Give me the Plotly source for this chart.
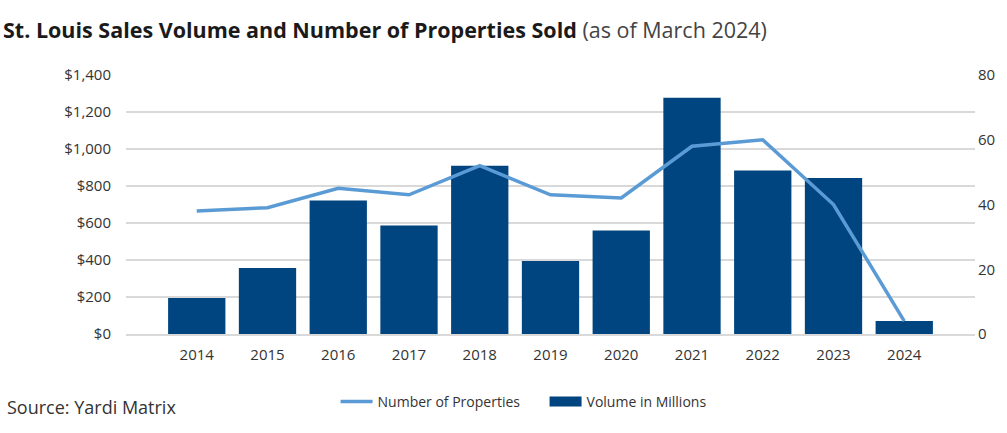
import plotly.graph_objects as go

years = ["2014", "2015", "2016", "2017", "2018", "2019", "2020", "2021", "2022", "2023", "2024"]
volume_millions = [195, 357, 722, 587, 910, 395, 560, 1277, 884, 843, 70]
num_properties = [38, 39, 45, 43, 52, 43, 42, 58, 60, 40, 4]

left_ticks = [0, 200, 400, 600, 800, 1000, 1200, 1400]
left_labels = ["$0", "$200", "$400", "$600", "$800", "$1,000", "$1,200", "$1,400"]
right_ticks = [0, 20, 40, 60, 80]

FONT = "Open Sans"
TXT = "#333333"
BAR = "#00457f"
LINE = "#5b9bd5"

fig = go.Figure()
fig.add_trace(go.Bar(
    x=years, y=volume_millions, name="Volume in Millions",
    marker=dict(color=BAR, line=dict(width=0)), yaxis="y", showlegend=False,
))
fig.add_trace(go.Scatter(
    x=years, y=num_properties, name="Number of Properties", mode="lines",
    line=dict(color=LINE, width=3.5), yaxis="y2", legendrank=1,
))
# legend-only entry for the bars (wide rectangle swatch)
fig.add_trace(go.Scatter(
    x=[None], y=[None], name="Volume in Millions", mode="lines",
    line=dict(color=BAR, width=14), yaxis="y", legendrank=2, hoverinfo="skip",
))

fig.update_layout(
    width=1007, height=433,
    margin=dict(l=126, r=30, t=75, b=99),
    paper_bgcolor="white", plot_bgcolor="white",
    font=dict(family=FONT, size=14, color=TXT),
    bargap=0.19,
    showlegend=True,
    legend=dict(orientation="h", x=0.493, xanchor="center", y=-0.262, yanchor="middle",
                font=dict(size=14, color=TXT), itemwidth=32,
                entrywidth=162, entrywidthmode="pixels"),
    xaxis=dict(type="category", range=[-1, 11], showgrid=False, zeroline=False,
               showline=True, linecolor="#d9d9d9", linewidth=2,
               ticks="", tickfont=dict(size=15, color=TXT), ticklabelstandoff=6),
    yaxis=dict(range=[0, 1400], tickvals=left_ticks, ticktext=left_labels,
               showgrid=True, gridcolor="#d9d9d9", gridwidth=1.5, zeroline=False,
               ticks="", tickfont=dict(size=15, color=TXT), ticklabelstandoff=14),
    yaxis2=dict(range=[0, 80], tickvals=right_ticks, overlaying="y", side="right",
                showgrid=False, zeroline=False, ticks="",
                tickfont=dict(size=15, color=TXT), ticklabelstandoff=2),
    annotations=[
        dict(xref="paper", yref="paper", x=-125/851, y=1 + 45/259, xanchor="left", yanchor="middle",
             text="<b>St. Louis Sales Volume and Number of Properties Sold</b> <span style='color:#444'>(as of March 2024)</span>",
             showarrow=False, font=dict(size=21.5, color="#1a1a1a", family=FONT)),
        dict(xref="paper", yref="paper", x=-121/851, y=-(407-334)/259, xanchor="left", yanchor="middle",
             text="Source: Yardi Matrix", showarrow=False,
             font=dict(size=18, color=TXT, family=FONT)),
    ],
)

fig.write_html("out.html")
